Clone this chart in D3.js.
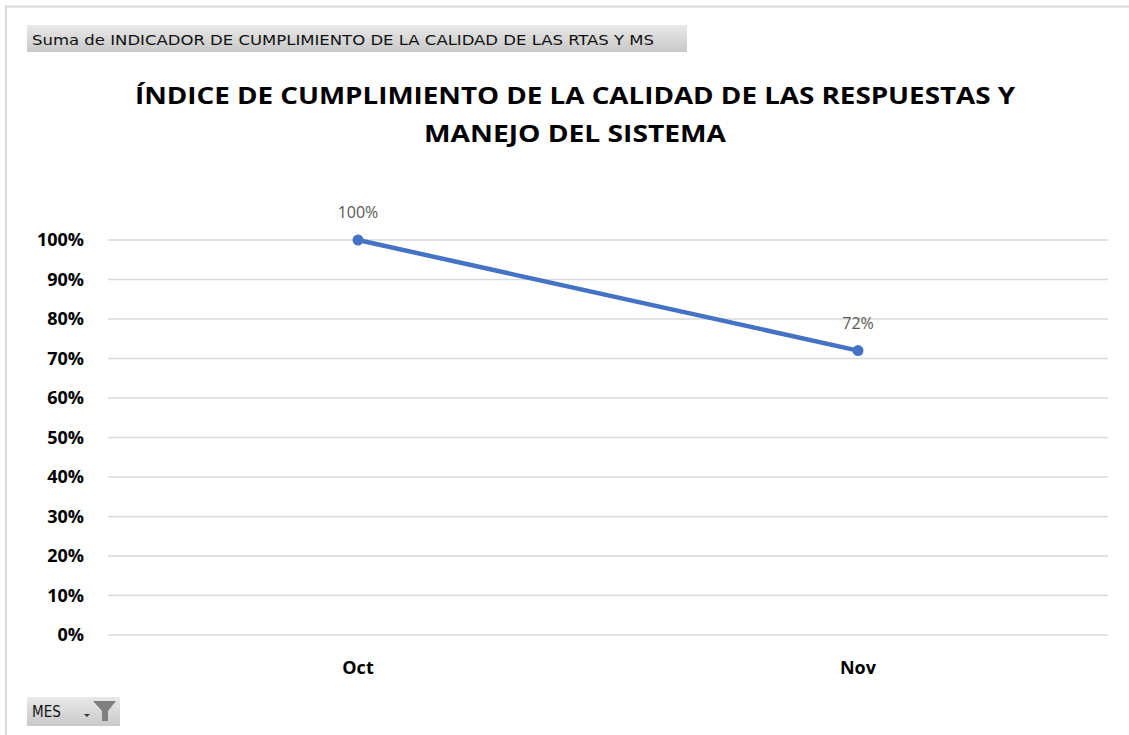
<!DOCTYPE html>
<html>
<head>
<meta charset="utf-8">
<script src="https://cdn.jsdelivr.net/npm/d3@7"></script>
<style>
  html, body { margin: 0; padding: 0; background: #fff; }
  svg { display: block; font-family: "Open Sans", "DejaVu Sans", sans-serif; }
</style>
</head>
<body>
<svg id="chart" width="1129" height="735"></svg>
<script>
// data
const months = ["Oct", "Nov"];
const values = [1.00, 0.72];
const yTicks = [0, 0.1, 0.2, 0.3, 0.4, 0.5, 0.6, 0.7, 0.8, 0.9, 1.0];
const titleLines = ["ÍNDICE DE CUMPLIMIENTO DE LA CALIDAD DE LAS RESPUESTAS Y", "MANEJO DEL SISTEMA"];
const fieldLabel = "Suma de INDICADOR DE CUMPLIMIENTO DE LA CALIDAD DE LAS RTAS Y MS";
const axisField = "MES";

const svg = d3.select("#chart");
const margin = { top: 240, right: 21, bottom: 100, left: 108 };
const width = 1129, height = 735;
const contentWidth = 1000;
const contentHeight = 635 - margin.top;

// frame
svg.append("line").attr("x1", 5).attr("x2", width).attr("y1", 6.5).attr("y2", 6.5)
  .attr("stroke", "#d9d9d9").attr("stroke-width", 2);
svg.append("line").attr("x1", 6).attr("x2", 6).attr("y1", 6).attr("y2", height)
  .attr("stroke", "#d9d9d9").attr("stroke-width", 2);

// grey gradient for pivot buttons
const defs = svg.append("defs");
const grad = defs.append("linearGradient").attr("id", "btn").attr("x1", 0).attr("x2", 0).attr("y1", 0).attr("y2", 1);
grad.append("stop").attr("offset", "0%").attr("stop-color", "#e9e9e9");
grad.append("stop").attr("offset", "100%").attr("stop-color", "#c8c8c8");

// field button top
svg.append("rect").attr("x", 27).attr("y", 25).attr("width", 660).attr("height", 27).attr("fill", "url(#btn)");
svg.append("text").attr("x", 32).attr("y", 44.5).attr("font-family", "DejaVu Sans Condensed, DejaVu Sans, sans-serif")
  .attr("font-size", 14.5).attr("fill", "#111").attr("textLength", 622).attr("lengthAdjust", "spacingAndGlyphs")
  .text(fieldLabel);

// title
svg.append("g").selectAll("text").data(titleLines).join("text")
  .attr("x", 575).attr("y", (d, i) => 104 + i * 38)
  .attr("text-anchor", "middle").attr("font-weight", "bold").attr("font-size", 24).attr("fill", "#000")
  .attr("textLength", (d, i) => i === 0 ? 880 : 302).attr("lengthAdjust", "spacingAndGlyphs")
  .text(d => d);

const g = svg.append("g").attr("transform", "translate(" + margin.left + "," + margin.top + ")");

const xScale = d3.scaleBand().domain(months).range([0, contentWidth]);
const yScale = d3.scaleLinear().domain([0, 1]).range([contentHeight, 0]);

// gridlines
g.append("g").selectAll("line").data(yTicks).join("line")
  .attr("x1", 0).attr("x2", contentWidth)
  .attr("y1", d => yScale(d)).attr("y2", d => yScale(d))
  .attr("stroke", "#d9d9d9").attr("stroke-width", 1.5);

// y axis
const yAxis = g.append("g").attr("class", "y axis")
  .call(d3.axisLeft(yScale).tickValues(yTicks).tickFormat(d3.format(".0%")).tickSize(0).tickPadding(24));
yAxis.select(".domain").remove();
yAxis.selectAll("text").attr("font-size", 18).attr("font-weight", "bold").attr("fill", "#000")
  .attr("font-family", "Open Sans, sans-serif");

// x axis
const xAxis = g.append("g").attr("class", "x axis").attr("transform", "translate(0," + contentHeight + ")")
  .call(d3.axisBottom(xScale).tickSize(0).tickPadding(26));
xAxis.select(".domain").remove();
xAxis.selectAll("text").attr("font-size", 18).attr("font-weight", "bold").attr("fill", "#000")
  .attr("font-family", "Open Sans, sans-serif");

const dataset = months.map((m, i) => ({ x: m, y: values[i] }));
const cx = d => xScale(d.x) + xScale.bandwidth() / 2;

const line = d3.line().x(cx).y(d => yScale(d.y));
g.append("path").datum(dataset).attr("d", line)
  .attr("fill", "none").attr("stroke", "#4472c4").attr("stroke-width", 4.5).attr("stroke-linecap", "round");

g.append("g").selectAll("circle").data(dataset).join("circle")
  .attr("cx", cx).attr("cy", d => yScale(d.y)).attr("r", 5.5).attr("fill", "#4472c4");

g.append("g").selectAll("text").data(dataset).join("text")
  .attr("x", cx).attr("y", d => yScale(d.y) - 22)
  .attr("text-anchor", "middle").attr("font-size", 16).attr("fill", "#595959")
  .text(d => d3.format(".0%")(d.y));

// MES button
svg.append("rect").attr("x", 27).attr("y", 697).attr("width", 93).attr("height", 29).attr("fill", "url(#btn)");
svg.append("text").attr("x", 32).attr("y", 717).attr("font-family", "DejaVu Sans Condensed, DejaVu Sans, sans-serif")
  .attr("font-size", 15).attr("fill", "#111").text(axisField);
// filter icon
svg.append("path").attr("d", "M93,701 L116,701 L108,711 L108,721 L102,721 L102,711 Z").attr("fill", "#7f7f7f");
svg.append("path").attr("d", "M84,714 L90,714 L87,717 Z").attr("fill", "#333");
</script>
</body>
</html>
